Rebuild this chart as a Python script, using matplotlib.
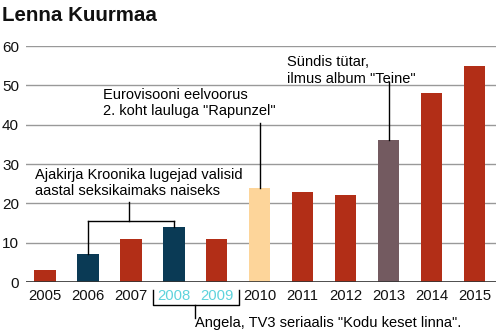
import matplotlib
matplotlib.use("Agg")
import matplotlib.pyplot as plt

plt.rcParams['font.family'] = ['Liberation Sans', 'DejaVu Sans']

years = ["2005", "2006", "2007", "2008", "2009", "2010",
         "2011", "2012", "2013", "2014", "2015"]
values = [3, 7, 11, 14, 11, 24, 23, 22, 36, 48, 55]
colors = ["#b22e17", "#0a3a55", "#b22e17", "#0a3a55", "#b22e17", "#fdd59a",
          "#b22e17", "#b22e17", "#735a60", "#b22e17", "#b22e17"]
yticks = [0, 10, 20, 30, 40, 50, 60]

fig = plt.figure(figsize=(4.96, 3.33), dpi=100)
ax = fig.add_axes([26/496, 51/333, 1 - 26/496, 236/333])

x = list(range(len(years)))
ax.bar(x, values, width=0.5, color=colors, zorder=3)

ax.set_xlim(-0.44, 10.5)
ax.set_ylim(0, 60)
ax.set_yticks(yticks)
ax.set_xticks(x)
ax.set_xticklabels(years)
ax.tick_params(axis='both', length=0, colors='#111111')
ax.tick_params(axis='x', pad=5, labelsize=10.7)
ax.tick_params(axis='y', pad=5, labelsize=11)
for lab in ax.get_xticklabels():
    if lab.get_text() in ("2008", "2009"):
        lab.set_color("#5fd3dc")

ax.grid(axis='y', color='#999999', lw=1, zorder=0)
for s in ax.spines.values():
    s.set_visible(False)
ax.axhline(0, color='#333333', lw=1.2, zorder=4)

fig.text(2/496, 1 - 21/333, "Lenna Kuurmaa", fontsize=14.8,
         fontweight='bold', va='baseline', color='#111111')

tsize = 10.5
line_kw = dict(color='black', lw=1, clip_on=False, zorder=5)

# Kroonika bracket over 2006 and 2008
ax.text(-0.23, 29.0, "Ajakirja Kroonika lugejad valisid\naastal seksikaimaks naiseks",
        fontsize=tsize, va='top', ha='left', linespacing=1.2)
ax.plot([1.96, 1.96], [20.3, 15.5], **line_kw)
ax.plot([1, 3], [15.5, 15.5], **line_kw)
ax.plot([1, 1], [15.5, values[1]], **line_kw)
ax.plot([3, 3], [15.5, values[3]], **line_kw)

# Eurovision 2010
ax.text(1.35, 49.3, 'Eurovisooni eelvoorus\n2. koht lauluga "Rapunzel"',
        fontsize=tsize, va='top', ha='left', linespacing=1.2)
ax.plot([5, 5], [40.4, values[5]], **line_kw)

# 2013
ax.text(5.63, 57.6, 'Sündis tütar,\nilmus album "Teine"',
        fontsize=tsize, va='top', ha='left', linespacing=1.2)
ax.plot([8, 8], [50.8, values[8]], **line_kw)

# bracket under 2008-2009
ax.plot([2.51, 2.51, 4.52, 4.52], [-2.0, -5.85, -5.85, -2.0], **line_kw)
ax.plot([3.49, 3.49], [-5.85, -9.2], **line_kw)
ax.text(3.49, -10.3, 'Angela, TV3 seriaalis "Kodu keset linna".',
        fontsize=tsize, va='center', ha='left')

fig.savefig("out.png", dpi=100)
